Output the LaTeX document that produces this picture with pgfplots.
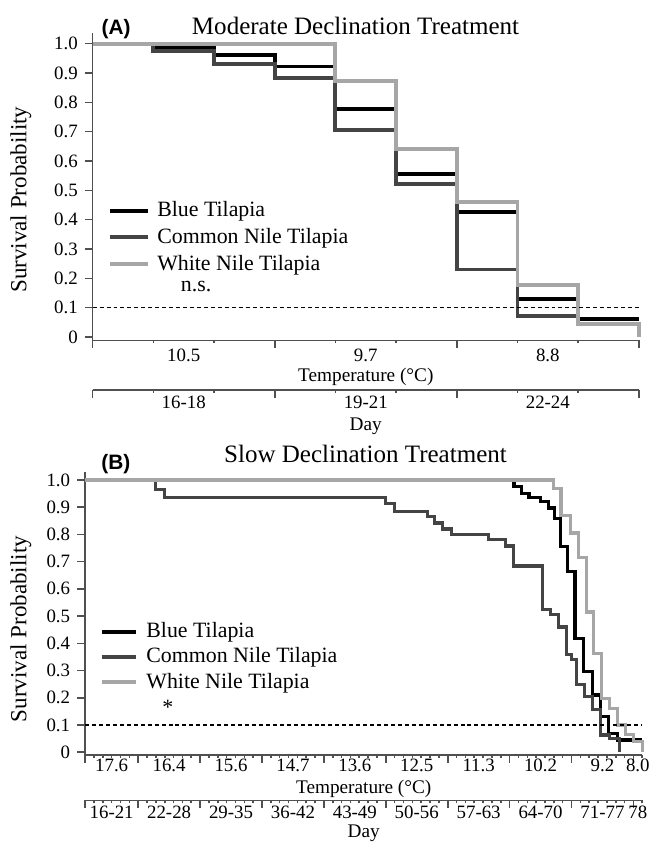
\documentclass[border=0pt]{standalone}
\usepackage{fontspec}
\setmainfont{Liberation Serif}
\newfontfamily\sansfnt{Liberation Sans}
\usepackage{pgfplots}
\pgfplotsset{compat=1.18}
\definecolor{cblue}{HTML}{000000}
\definecolor{ccommon}{HTML}{444444}
\definecolor{cwhite}{HTML}{A6A6A6}
\definecolor{caxis}{HTML}{505050}
\pgfplotsset{
  base/.style={scale only axis, anchor=south west, clip=false,
    /pgf/number format/assume math mode=true,
    axis line style={-, caxis, line width=0.8pt},
    tick style={caxis, line width=0.8pt},
    tick align=outside, major tick length=4pt, minor tick length=1.5pt,
    tick label style={font=\fontsize{9.5}{11}\selectfont},
  },
  mainax/.style={base, axis x line*=bottom, axis y line*=left,
    ytick={0,0.1,0.2,0.3,0.4,0.5,0.6,0.7,0.8,0.9,1},
    yticklabels={0,0.1,0.2,0.3,0.4,0.5,0.6,0.7,0.8,0.9,1.0},
    xticklabels={},
    extra x tick style={major tick length=0pt},
    legend cell align=left,
    legend style={draw=none, fill=none, inner sep=0pt, font=\fontsize{11}{13}\selectfont,
      nodes={inner sep=0pt}},
  },
  dayax/.style={base, axis x line*=bottom, hide y axis, ymin=0, ymax=1, height=10pt,
    xticklabels={}, extra x tick style={major tick length=0pt}},
}
\begin{document}
\begin{tikzpicture}
\path (0,0) rectangle (334.5pt,-424pt);
% ---------------- Panel A ----------------
\begin{axis}[mainax, at={(46.65pt,-171.35pt)}, width=275pt, height=154.85pt,
  xmin=16, xmax=25, ymin=-0.0115, ymax=1.037,
  xtick={16,19,22,25}, minor xtick={17,18,20,21,23,24},
  extra x ticks={17.5,20.5,23.5}, extra x tick labels={10.5,9.7,8.8},
  xticklabel style={anchor=base, yshift=-10.4pt},
  legend style={at={(axis description cs:0.0267,0.452)}, anchor=north west, row sep=4.3pt, column sep=3.5pt},
  legend image code/.code={\draw[#1, line width=2pt] (0pt,0pt) -- (19.5pt,0pt);}]
\addplot[const plot, cblue, line width=2pt] coordinates {(16,1) (17,0.985) (18,0.96) (19,0.922) (20,0.777) (21,0.555) (22,0.426) (23,0.13) (24,0.06) (25,0.06)};
\addlegendentry{Blue Tilapia}
\addplot[const plot, ccommon, line width=2pt] coordinates {(16,1) (17,0.975) (18,0.93) (19,0.884) (20,0.707) (21,0.522) (22,0.23) (23,0.07) (24,0.06)};
\addlegendentry{Common Nile Tilapia}
\addplot[const plot, cwhite, line width=2pt] coordinates {(16,1) (20,0.873) (21,0.641) (22,0.461) (23,0.178) (24,0.045) (25,0)};
\addlegendentry{White Nile Tilapia}
\addplot[forget plot, black, line width=0.6pt, dash pattern=on 2pt off 1.5pt] coordinates {(16,0.1) (25,0.1)};
\end{axis}
\begin{axis}[dayax, at={(46.65pt,-196.35pt)}, width=275pt, xmin=16, xmax=25,
  xtick={16,19,22,25}, minor xtick={17,18,20,21,23,24},
  extra x ticks={17.5,20.5,23.5}, extra x tick labels={16-18,19-21,22-24},
  xticklabel style={anchor=base, yshift=-9.4pt}]
\addplot[draw=none] coordinates {(16,0) (25,0)};
\end{axis}
\node[anchor=base, font=\fontsize{12.6}{14}\selectfont] at (179pt,-17.5pt) {Moderate Declination Treatment};
\node[anchor=base, font=\sansfnt\bfseries\fontsize{10.5}{12}\selectfont] at (58.5pt,-17.5pt) {(A)};
\node[rotate=90, font=\fontsize{11.6}{13}\selectfont] at (10.5pt,-100.5pt) {Survival Probability};
\node[anchor=base, font=\fontsize{11}{13}\selectfont] at (98.75pt,-146.8pt) {n.s.};
\node[anchor=base, font=\fontsize{9.7}{11}\selectfont] at (184.15pt,-192pt) {Temperature (°C)};
\node[anchor=base, font=\fontsize{9.7}{11}\selectfont] at (184.15pt,-216.5pt) {Day};
% ---------------- Panel B ----------------
\begin{axis}[mainax, at={(42.85pt,-380pt)}, width=280.5pt, height=142.5pt,
  xmin=16, xmax=79, ymin=-0.0095, ymax=1.03,
  xtick={16,22,29,36,43,50,57,64,71,78}, minor xtick={16,17,...,79},
  extra x ticks={19,25.5,32.5,39.5,46.5,53.5,60.5,67.5,74.5,78.5},
  extra x tick labels={17.6,16.4,15.6,14.7,13.6,12.5,11.3,10.2,9.2,8.0},
  xticklabel style={anchor=base, yshift=-8.5pt},
  legend style={at={(axis description cs:0.0255,0.468)}, anchor=north west, row sep=3.5pt, column sep=4pt},
  legend image code/.code={\draw[#1, line width=2pt] (0pt,0pt) -- (17.5pt,0pt);}]
\addplot[const plot, cblue, line width=1.6pt] coordinates {(16,1) (64.5,0.975) (65.3,0.95) (66.2,0.935) (67.5,0.92) (68.4,0.897) (69.1,0.857) (69.75,0.755) (70.5,0.665) (71.4,0.417) (72.4,0.297) (73.4,0.21) (74.3,0.13) (75.2,0.07) (76.2,0.045) (79,0.045)};
\addlegendentry{Blue Tilapia}
\addplot[const plot, ccommon, line width=1.6pt] coordinates {(16,1) (24,0.966) (25,0.934) (50,0.912) (51,0.885) (54.7,0.866) (55.5,0.842) (56.4,0.82) (57.4,0.80) (61.6,0.78) (63.5,0.757) (64.4,0.684) (67.7,0.525) (68.6,0.505) (69.5,0.46) (70.4,0.36) (71.0,0.34) (71.6,0.25) (72.5,0.205) (73.4,0.157) (74.3,0.063) (75.3,0.05) (76.4,0)};
\addlegendentry{Common Nile Tilapia}
\addplot[const plot, cwhite, line width=1.6pt] coordinates {(16,1) (69,0.97) (69.8,0.87) (70.9,0.805) (71.75,0.715) (72.65,0.515) (73.5,0.362) (74.35,0.197) (75.3,0.161) (76.2,0.10) (77.1,0.066) (78,0.04) (79,0)};
\addlegendentry{White Nile Tilapia}
\addplot[forget plot, black, line width=0.6pt, dash pattern=on 2pt off 1.5pt] coordinates {(16,0.1) (79,0.1)};
\end{axis}
\begin{axis}[dayax, at={(42.85pt,-403pt)}, width=280.5pt, xmin=16, xmax=79,
  xtick={16,22,29,36,43,50,57,64,71,78}, minor xtick={16,17,...,79},
  extra x ticks={19,25.5,32.5,39.5,46.5,53.5,60.5,67.5,74.5,78.5},
  extra x tick labels={16-21,22-28,29-35,36-42,43-49,50-56,57-63,64-70,71-77,78},
  xticklabel style={anchor=base, yshift=-9pt}]
\addplot[draw=none] coordinates {(16,0) (79,0)};
\end{axis}
\node[anchor=base, font=\fontsize{12.6}{14}\selectfont] at (184pt,-233pt) {Slow Declination Treatment};
\node[anchor=base, font=\sansfnt\bfseries\fontsize{10.5}{12}\selectfont] at (58.35pt,-236.5pt) {(B)};
\node[rotate=90, font=\fontsize{11.6}{13}\selectfont] at (10.5pt,-316.75pt) {Survival Probability};
\node[anchor=base, font=\fontsize{11}{13}\selectfont] at (84.5pt,-359.5pt) {*};
\node[anchor=base, font=\fontsize{9.7}{11}\selectfont] at (183.1pt,-399.5pt) {Temperature (°C)};
\node[anchor=base, font=\fontsize{9.7}{11}\selectfont] at (183.1pt,-421.5pt) {Day};
\end{tikzpicture}
\end{document}
